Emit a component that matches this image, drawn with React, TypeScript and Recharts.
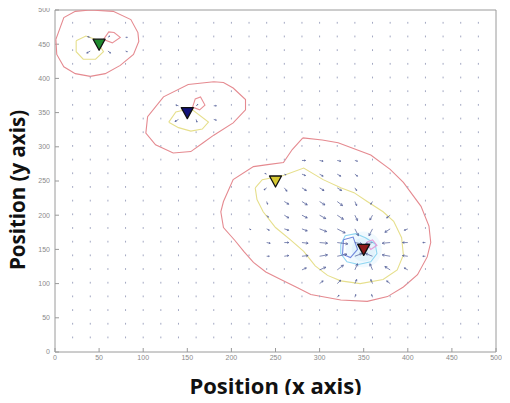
import { Cell, Label, Scatter, ScatterChart, XAxis, YAxis } from 'recharts'

// axis ticks (both axes run 0..500)
const axisTicks = [0, 50, 100, 150, 200, 250, 300, 350, 400, 450, 500]

// quiver grid positions
const gridX = [20, 40, 60, 80, 100, 120, 140, 160, 180, 200, 220, 240, 260, 280, 300, 320, 340, 360, 380, 400, 420, 440, 460, 480]
const gridY = [20, 40, 60, 80, 100, 120, 140, 160, 180, 200, 220, 240, 260, 280, 300, 320, 340, 360, 380, 400, 420, 440, 460, 480]

// visible field vectors: [x, y, u, v]; everything else on the grid is near zero
const arrowVectors: [number, number, number, number][] = [
  // around (50, 450)
  [40, 460, -3, 1], [60, 460, 2, 2], [40, 440, -4, -3], [60, 440, 3, -3], [80, 460, 2, 0], [80, 440, 2, -1],
  // around (150, 350)
  [140, 360, -3, 1], [160, 360, 2, 2], [140, 340, -4, -3], [160, 340, 1, -4], [180, 340, 3, -1], [180, 360, 3, 0],
  // between (250, 250) and (350, 150)
  [280, 280, 4, 0], [300, 280, 4, -1], [320, 280, 4, -1], [340, 280, 3, -1],
  [240, 260, -2, 1], [260, 260, 2, -1], [280, 260, 4, -2], [300, 260, 4, -3], [320, 260, 4, -3], [340, 260, 3, -3],
  [240, 240, -3, -3], [260, 240, 3, -5], [280, 240, 5, -4], [300, 240, 5, -4], [320, 240, 5, -4], [340, 240, 2, -4],
  [240, 220, 1, -4], [260, 220, 5, -4], [280, 220, 6, -5], [300, 220, 6, -5], [320, 220, 6, -6], [340, 220, 2, -6], [360, 220, -2, -4],
  [240, 200, 2, -3], [260, 200, 5, -4], [280, 200, 6, -4], [300, 200, 7, -5], [320, 200, 7, -6], [340, 200, 3, -8], [360, 200, -3, -7], [380, 200, -4, -4],
  [220, 180, 2, -1], [240, 180, 3, -2], [260, 180, 5, -2], [280, 180, 6, -3], [300, 180, 8, -4], [320, 180, 9, -6], [340, 180, 4, -10], [360, 180, -4, -10], [380, 180, -6, -5], [400, 180, -4, -2],
  [240, 160, 4, -1], [260, 160, 5, 0], [280, 160, 7, -1], [300, 160, 9, -1], [320, 160, 12, -2], [340, 160, 8, -2], [360, 160, -8, -2], [380, 160, -9, -1], [400, 160, -6, 0], [420, 160, -3, 0],
  [240, 140, 3, 0], [260, 140, 5, 1], [280, 140, 7, 1], [300, 140, 9, 2], [320, 140, 11, 3], [340, 140, 8, 4], [360, 140, -8, 4], [380, 140, -9, 2], [400, 140, -6, 1], [420, 140, -3, 0],
  [280, 120, 5, 3], [300, 120, 7, 4], [320, 120, 7, 7], [340, 120, 3, 9], [360, 120, -3, 9], [380, 120, -6, 5], [400, 120, -4, 3],
  [300, 100, 4, 4], [320, 100, 4, 5], [340, 100, 2, 6], [360, 100, -2, 6], [380, 100, -4, 4],
  [320, 80, 2, 3], [340, 80, 1, 4], [360, 80, -1, 4],
]

// source positions and marker fills
const sourcePoints = [
  { x: 50, y: 450 },
  { x: 150, y: 350 },
  { x: 250, y: 250 },
  { x: 350, y: 150 },
]
const sourceFills = ['#1f8a2e', '#12127a', '#d6c832', '#8e1a1a']

// contour lines
const redTopLeft = [[1, 457], [10, 489], [23, 498], [40, 500], [66, 498], [86, 486], [94, 467], [95, 454], [89, 435], [74, 419], [57, 407], [40, 403], [23, 407], [10, 417], [2, 435], [1, 457]]
const yellowTopLeft = [[24, 455], [35, 462], [46, 457], [55, 439], [46, 428], [32, 428], [24, 439], [24, 455]]
const redBlobTopLeft = [[55, 457], [61, 468], [67, 467], [74, 460], [65, 452], [55, 457]]
const redMid = [[180, 395], [151, 391], [123, 373], [105, 344], [103, 320], [114, 303], [134, 291], [154, 293], [168, 306], [180, 317], [202, 335], [216, 354], [216, 369], [202, 386], [191, 394], [180, 395]]
const yellowMid = [[129, 336], [137, 351], [154, 356], [174, 336], [167, 326], [154, 323], [140, 328], [129, 336]]
const redBlobMid = [[156, 358], [159, 370], [165, 373], [170, 361], [164, 354], [156, 358]]
const redBig = [[281, 313], [303, 310], [321, 306], [358, 288], [380, 267], [395, 248], [415, 213], [424, 184], [426, 160], [422, 139], [411, 113], [395, 95], [377, 81], [354, 74], [324, 76], [290, 84], [275, 94], [256, 106], [239, 117], [225, 131], [214, 147], [204, 163], [191, 182], [188, 205], [191, 220], [202, 252], [225, 271], [241, 274], [259, 277], [269, 296], [281, 313]]
const yellowBig = [[227, 240], [235, 252], [259, 258], [282, 269], [304, 252], [324, 240], [339, 233], [354, 220], [372, 205], [384, 191], [393, 167], [395, 142], [388, 120], [372, 106], [346, 100], [324, 104], [309, 112], [295, 126], [282, 147], [267, 164], [250, 182], [236, 205], [229, 223], [227, 240]]
const cyanRing = [[324, 157], [329, 170], [341, 173], [352, 167], [363, 158], [365, 144], [358, 132], [344, 128], [331, 132], [324, 144], [324, 157]]
const blueInner = [[327, 164], [338, 168], [343, 150], [335, 138], [326, 143], [327, 164]]
const pinkInner = [[353, 160], [360, 164], [365, 156], [358, 150], [353, 160]]

const W = 510
const H = 403
const M = { top: 10, right: 14, bottom: 0, left: 0 }
const Y_AXIS_W = 55
const X_AXIS_H = 51
const PLOT_W = W - M.left - M.right - Y_AXIS_W
const PLOT_H = H - M.top - M.bottom - X_AXIS_H
const KX = PLOT_W / 500
const KY = PLOT_H / 500

const toPts = (pts: number[][]) => pts.map(([x, y]) => ({ x, y }))

const vectorMap = new Map(arrowVectors.map(([x, y, u, v]) => [`${x},${y}`, { u, v }]))
const fieldPoints = gridX.flatMap((x) =>
  gridY.map((y) => ({ x, y, ...(vectorMap.get(`${x},${y}`) ?? { u: 0, v: 0 }) })),
)

const QuiverMark = (props: any) => {
  const { cx, cy, payload } = props
  const dx = payload.u * KX
  const dy = -payload.v * KY
  const len = Math.hypot(dx, dy)
  if (len < 1) {
    return <line x1={cx} y1={cy} x2={cx} y2={cy - 1.8} stroke="#a2a7c2" strokeWidth={1} />
  }
  const ex = cx + dx
  const ey = cy + dy
  const ang = Math.atan2(dy, dx)
  const h = Math.min(2.6, len * 0.4)
  const a1 = ang + Math.PI - 0.5
  const a2 = ang + Math.PI + 0.5
  const d = `M${cx},${cy}L${ex},${ey}M${ex + h * Math.cos(a1)},${ey + h * Math.sin(a1)}L${ex},${ey}L${ex + h * Math.cos(a2)},${ey + h * Math.sin(a2)}`
  return <path d={d} stroke="#4c5894" strokeWidth={1} fill="none" strokeOpacity={0.7} />
}

const SourceMarker = (props: any) => {
  const { cx, cy, fill } = props
  const d = `M${cx - 6},${cy - 5}L${cx + 6},${cy - 5}L${cx},${cy + 6}Z`
  return <path d={d} fill={fill} stroke="#111" strokeWidth={1.3} strokeLinejoin="round" />
}

const Glow = (props: any) => {
  const { cx, cy } = props
  return (
    <g>
      <circle cx={cx} cy={cy} r={18} fill="#f0f9fe" />
      <circle cx={cx} cy={cy} r={12} fill="#e2f3fc" />
    </g>
  )
}

const noDot = () => <g />

const XTitle = (props: any) => {
  const { viewBox } = props
  return (
    <text x={viewBox.x + viewBox.width / 2} y={viewBox.y + 42} textAnchor="middle" fontFamily="'Open Sans'" fontWeight="bold" fontSize={22} fill="#111">
      Position (x axis)
    </text>
  )
}

const YTitle = () => (
  <text x={25} y={190} transform="rotate(-90 25 190)" textAnchor="middle" fontFamily="'Open Sans'" fontWeight="bold" fontSize={20.5} fill="#111">
    Position (y axis)
  </text>
)

const tickStyle = { fontSize: 7, fill: '#8a8a8a', fontFamily: 'Liberation Sans' }
const axisGray = '#9a9a9a'

const contour = (name: string, pts: number[][], stroke: string, width = 1.1) => (
  <Scatter
    key={name}
    name={name}
    data={toPts(pts)}
    line={{ stroke, strokeWidth: width }}
    lineType="joint"
    shape={noDot}
    isAnimationActive={false}
  />
)

export default function App() {
  return (
    <div style={{ margin: -8, width: W, height: H, background: '#fff' }}>
      <ScatterChart width={W} height={H} margin={M}>
        <XAxis
          type="number"
          dataKey="x"
          domain={[0, 500]}
          ticks={axisTicks}
          height={X_AXIS_H}
          tickSize={-4}
          tickMargin={7}
          tick={tickStyle}
          stroke={axisGray}
          allowDataOverflow
        >
          <Label content={<XTitle />} />
        </XAxis>
        <YAxis
          type="number"
          dataKey="y"
          domain={[0, 500]}
          ticks={axisTicks}
          width={Y_AXIS_W}
          tickSize={-4}
          tickMargin={9}
          tick={tickStyle}
          stroke={axisGray}
          allowDataOverflow
        >
          <Label content={<YTitle />} />
        </YAxis>
        {/* frame: top and right axes with inward ticks, no labels */}
        <XAxis xAxisId="top" orientation="top" mirror type="number" dataKey="x" domain={[0, 500]} ticks={axisTicks} tickSize={4} tick={false} stroke={axisGray} allowDataOverflow />
        <YAxis yAxisId="right" orientation="right" mirror type="number" dataKey="y" domain={[0, 500]} ticks={axisTicks} tickSize={4} tick={false} stroke={axisGray} allowDataOverflow />

        <Scatter name="glow" data={[sourcePoints[3]]} shape={Glow} isAnimationActive={false} />
        {contour('red-1', redTopLeft, '#e58a90')}
        {contour('red-2', redMid, '#e58a90')}
        {contour('red-3', redBig, '#e58a90')}
        {contour('red-1b', redBlobTopLeft, '#e89096')}
        {contour('red-2b', redBlobMid, '#e89096')}
        {contour('yellow-1', yellowTopLeft, '#e6df8c')}
        {contour('yellow-2', yellowMid, '#e6df8c')}
        {contour('yellow-3', yellowBig, '#e6df8c')}
        {contour('cyan', cyanRing, '#8fd6f2')}
        {contour('blue', blueInner, '#6f86dc')}
        {contour('pink', pinkInner, '#e49ad8')}
        <Scatter name="field" data={fieldPoints} shape={QuiverMark} isAnimationActive={false} />
        <Scatter name="sources" data={sourcePoints} shape={SourceMarker} isAnimationActive={false}>
          {sourcePoints.map((_, i) => (
            <Cell key={i} fill={sourceFills[i]} />
          ))}
        </Scatter>
        {/* ties the top/right frame axes to the same 0..500 range */}
        <Scatter xAxisId="top" yAxisId="right" data={[{ x: 0, y: 0 }, { x: 500, y: 500 }]} shape={noDot} isAnimationActive={false} />
      </ScatterChart>
    </div>
  )
}
